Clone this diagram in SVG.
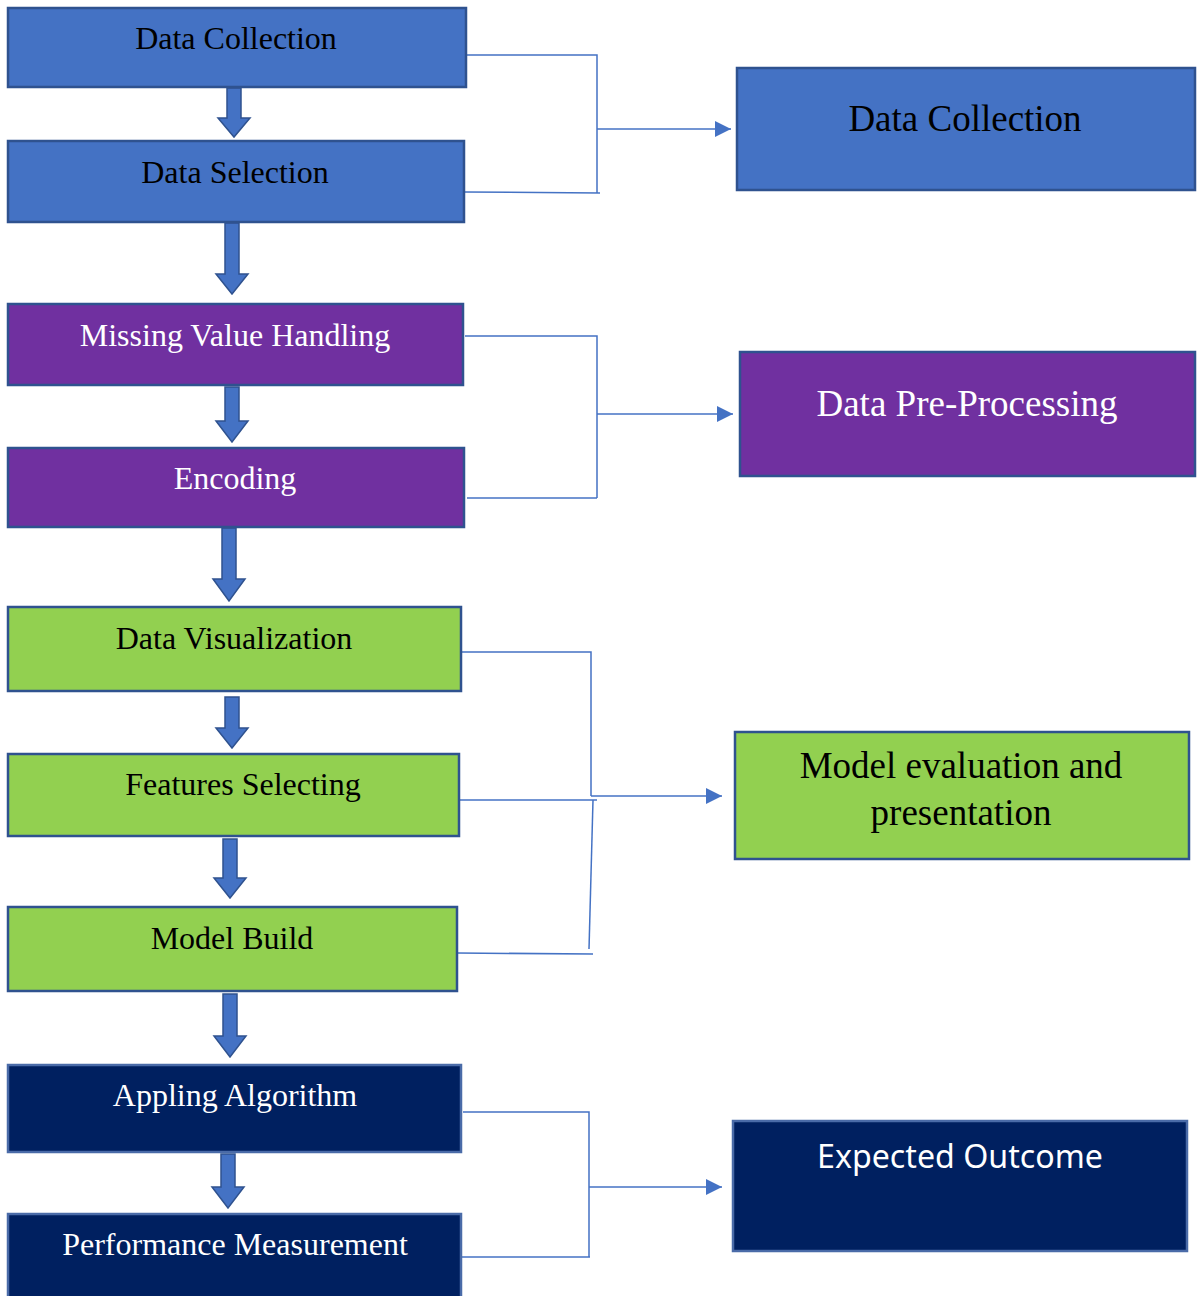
<svg xmlns="http://www.w3.org/2000/svg" width="1198" height="1296" viewBox="0 0 1198 1296">
<defs>
<style>
.blue{fill:#4472C4;stroke:#2F528F;stroke-width:2.5}
.purple{fill:#7030A0;stroke:#2F528F;stroke-width:2.5}
.green{fill:#92D050;stroke:#2F528F;stroke-width:2.5}
.navy{fill:#002060;stroke:#4A6BA8;stroke-width:2.5}
.t{font-family:"Liberation Serif","Times New Roman",serif;font-size:32px;text-anchor:middle}
.tr{font-family:"Liberation Serif","Times New Roman",serif;font-size:37px;text-anchor:middle}
.ts{font-family:"Noto Sans","Open Sans",sans-serif;font-size:33px;text-anchor:middle}
.dark{fill:#000}
.white{fill:#fff}
.conn{fill:none;stroke:#4472C4;stroke-width:1.5}
.barrow{fill:#4472C4;stroke:#2F528F;stroke-width:1.5}
</style>
<marker id="ah" viewBox="0 0 16 16" refX="16" refY="8" markerWidth="16" markerHeight="16" markerUnits="userSpaceOnUse" orient="auto">
<path d="M0,0 L16,8 L0,16 z" fill="#4472C4"/>
</marker>
</defs>
<rect width="1198" height="1296" fill="#fff"/>

<g id="connectors">
<path class="conn" d="M466,55 H597 V193"/>
<path class="conn" d="M464,192 L600,193"/>
<path class="conn" d="M597,129 H731" marker-end="url(#ah)"/>
<path class="conn" d="M465,336 H597 V498"/>
<path class="conn" d="M467,498 H597"/>
<path class="conn" d="M597,414 H733" marker-end="url(#ah)"/>
<path class="conn" d="M461,652 H591 V796"/>
<path class="conn" d="M591,796 H722" marker-end="url(#ah)"/>
<path class="conn" d="M459,800 H597"/>
<path class="conn" d="M593,800 L589,949"/>
<path class="conn" d="M457,953 L593,954"/>
<path class="conn" d="M463,1112 H589 V1257"/>
<path class="conn" d="M461,1257 H590"/>
<path class="conn" d="M589,1187 H722" marker-end="url(#ah)"/>
</g>

<g id="block-arrows">
<path class="barrow" d="M227,88 H241 V118 H250 L234,137 L218,118 H227 Z"/>
<path class="barrow" d="M225,223 H239 V274 H248 L232,294 L216,274 H225 Z"/>
<path class="barrow" d="M225,387 H239 V421 H248 L232,442 L216,421 H225 Z"/>
<path class="barrow" d="M222,528 H236 V579 H245 L229,601 L213,579 H222 Z"/>
<path class="barrow" d="M225,697 H239 V728 H248 L232,748 L216,728 H225 Z"/>
<path class="barrow" d="M223,839 H237 V878 H246 L230,898 L214,878 H223 Z"/>
<path class="barrow" d="M223,994 H237 V1036 H246 L230,1057 L214,1036 H223 Z"/>
<path class="barrow" d="M221,1154 H235 V1187 H244 L228,1208 L212,1187 H221 Z"/>
</g>

<g id="node-data-collection">
<rect class="blue" x="8" y="8" width="458" height="79"/>
<text class="t dark" x="236" y="49">Data Collection</text>
</g>
<g id="node-data-selection">
<rect class="blue" x="8" y="141" width="456" height="81"/>
<text class="t dark" x="235" y="183">Data Selection</text>
</g>
<g id="node-missing-value">
<rect class="purple" x="8" y="304" width="455" height="81"/>
<text class="t white" x="235" y="346">Missing Value Handling</text>
</g>
<g id="node-encoding">
<rect class="purple" x="8" y="448" width="456" height="79"/>
<text class="t white" x="235" y="489">Encoding</text>
</g>
<g id="node-data-visualization">
<rect class="green" x="8" y="607" width="453" height="84"/>
<text class="t dark" x="234" y="649">Data Visualization</text>
</g>
<g id="node-features-selecting">
<rect class="green" x="8" y="754" width="451" height="82"/>
<text class="t dark" x="243" y="795">Features Selecting</text>
</g>
<g id="node-model-build">
<rect class="green" x="8" y="907" width="449" height="84"/>
<text class="t dark" x="232" y="949">Model Build</text>
</g>
<g id="node-appling-algorithm">
<rect class="navy" x="8" y="1065" width="453" height="87"/>
<text class="t white" x="235" y="1106">Appling Algorithm</text>
</g>
<g id="node-performance-measurement">
<rect class="navy" x="8" y="1214" width="453" height="90"/>
<text class="t white" x="235" y="1255">Performance Measurement</text>
</g>

<g id="node-r-data-collection">
<rect class="blue" x="737" y="68" width="458" height="122"/>
<text class="tr dark" x="965" y="131">Data Collection</text>
</g>
<g id="node-r-data-preprocessing">
<rect class="purple" x="740" y="352" width="455" height="124"/>
<text class="tr white" x="967" y="416">Data Pre-Processing</text>
</g>
<g id="node-r-model-evaluation">
<rect class="green" x="735" y="732" width="454" height="127"/>
<text class="tr dark" x="961" y="778">Model evaluation and</text>
<text class="tr dark" x="961" y="825">presentation</text>
</g>
<g id="node-r-expected-outcome">
<rect class="navy" x="733" y="1121" width="454" height="130"/>
<text class="ts white" x="960" y="1168" textLength="286" lengthAdjust="spacingAndGlyphs">Expected Outcome</text>
</g>
</svg>
